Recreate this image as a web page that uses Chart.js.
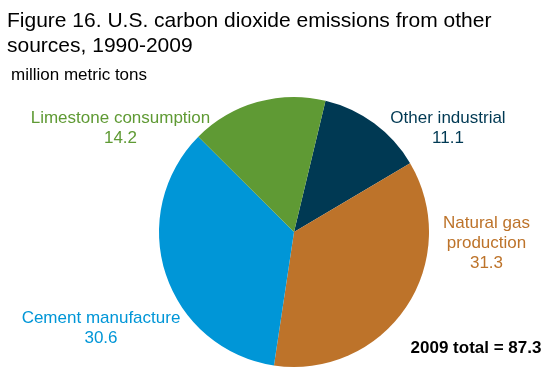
<!DOCTYPE html>
<html>
<head>
<meta charset="utf-8">
<script src="https://cdn.jsdelivr.net/npm/chart.js@4"></script>
<style>
  body { margin: 0; background: #fff; }
  canvas { display: block; }
</style>
</head>
<body>
<canvas id="pie" width="550" height="374"></canvas>
<script>
// data (million metric tons)
var categories = ['Other industrial', 'Natural gas production', 'Cement manufacture', 'Limestone consumption'];
var values = [11.1, 31.3, 30.6, 14.2];
var colors = ['#003953', '#bd732a', '#0096d7', '#5f9a34'];
var totalLabel = '2009 total = 87.3';

// slice label text lines, center x and first baseline
var labelSpots = [
  { lines: ['Other industrial', '11.1'], x: 448, y: 122.5 },
  { lines: ['Natural gas', 'production', '31.3'], x: 486.5, y: 227.5 },
  { lines: ['Cement manufacture', '30.6'], x: 101, y: 322.5 },
  { lines: ['Limestone consumption', '14.2'], x: 120.5, y: 122.5 }
];

var FONT = '"Liberation Sans", Arial, sans-serif';

var textPlugin = {
  id: 'texts',
  afterDraw: function(chart) {
    var ctx = chart.ctx;
    ctx.save();
    // title
    ctx.fillStyle = '#000';
    ctx.textAlign = 'left';
    ctx.textBaseline = 'alphabetic';
    ctx.font = '21px ' + FONT;
    ctx.fillText('Figure 16. U.S. carbon dioxide emissions from other', 7, 27);
    ctx.fillText('sources, 1990-2009', 7, 52);
    ctx.font = '17px ' + FONT;
    ctx.fillText('million metric tons', 11, 80);

    // slice labels
    ctx.textAlign = 'center';
    ctx.font = '17px ' + FONT;
    labelSpots.forEach(function(s, i) {
      ctx.fillStyle = colors[i];
      s.lines.forEach(function(t, j) {
        ctx.fillText(t, s.x, s.y + j * 20.3);
      });
    });

    ctx.fillStyle = '#000';
    ctx.font = 'bold 17px ' + FONT;
    ctx.fillText(totalLabel, 476, 353);
    ctx.restore();
  }
};

new Chart(document.getElementById('pie').getContext('2d'), {
  type: 'pie',
  data: {
    labels: categories,
    datasets: [{
      data: values,
      backgroundColor: colors,
      borderWidth: 0
    }]
  },
  options: {
    responsive: false,
    animation: false,
    rotation: 13.5,
    layout: { padding: { top: 97, bottom: 7, left: 38, right: 0 } },
    plugins: {
      legend: { display: false },
      tooltip: { enabled: false },
      title: { display: false }
    }
  },
  plugins: [textPlugin]
});
</script>
</body>
</html>
